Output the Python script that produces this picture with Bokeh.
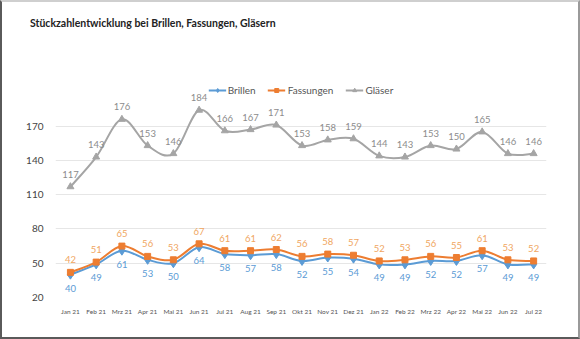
from bokeh.plotting import figure
from bokeh.models import ColumnDataSource, FixedTicker, Legend, LegendItem, Div
from bokeh.layouts import column
from bokeh.core.properties import value
from bokeh.embed import file_html
from bokeh.resources import INLINE

months = ["Jan 21", "Feb 21", "Mrz 21", "Apr 21", "Mai 21", "Jun 21", "Jul 21", "Aug 21", "Sep 21",
          "Okt 21", "Nov 21", "Dez 21", "Jan 22", "Feb 22", "Mrz 22", "Apr 22", "Mai 22", "Jun 22", "Jul 22"]
brillen = [40, 49, 61, 53, 50, 64, 58, 57, 58, 52, 55, 54, 49, 49, 52, 52, 57, 49, 49]
fassungen = [42, 51, 65, 56, 53, 67, 61, 61, 62, 56, 58, 57, 52, 53, 56, 55, 61, 53, 52]
glaeser = [117, 143, 176, 153, 146, 184, 166, 167, 171, 153, 158, 159, 144, 143, 153, 150, 165, 146, 146]
y_ticks = [20, 50, 80, 110, 140, 170]
title_text = "Stückzahlentwicklung bei Brillen, Fassungen, Gläsern"

C_BR = "#5B9BD5"
C_FA = "#ED7D31"
C_GL = "#A5A5A5"

xs = list(range(len(months)))

title_div = Div(
    text=('<div style="margin:15px 0 0 28px;font-family:Lato;font-weight:bold;font-size:10.5px;'
          'line-height:13px;color:#222222;white-space:nowrap">' + title_text + '</div>'),
    width=576, height=40, margin=0)

p = figure(width=576, height=295, output_backend="svg", toolbar_location=None,
           x_range=(-0.58, 18.5), y_range=(20, 210),
           min_border_left=53, min_border_right=32, min_border_top=38, min_border_bottom=40)
p.outline_line_color = None
p.background_fill_color = "white"
p.border_fill_color = "white"

p.xgrid.grid_line_color = None
p.ygrid.grid_line_color = "#e6e6e6"
p.ygrid.grid_line_width = 1
p.yaxis.ticker = FixedTicker(ticks=y_ticks)
p.xaxis.ticker = FixedTicker(ticks=xs)
p.xaxis.major_label_overrides = {i: m for i, m in enumerate(months)}
for ax in (p.xaxis, p.yaxis):
    ax.axis_line_color = None
    ax.major_tick_line_color = None
    ax.minor_tick_line_color = None
p.xaxis.major_label_text_font = "Lato"
p.xaxis.major_label_text_font_size = "6.5px"
p.xaxis.major_label_text_color = "#555555"
p.xaxis.major_label_standoff = 4
p.yaxis.major_label_text_font = "Lato"
p.yaxis.major_label_text_font_size = "10px"
p.yaxis.major_label_text_color = "#444444"
p.yaxis.major_label_standoff = 6


def smooth(src_y, color):
    n = len(src_y)
    x0, y0, x1, y1, cx0, cy0, cx1, cy1 = [], [], [], [], [], [], [], []
    for i in range(n - 1):
        xm = xs[i - 1] if i > 0 else xs[i]
        ym = src_y[i - 1] if i > 0 else src_y[i]
        xp = xs[i + 2] if i + 2 < n else xs[i + 1]
        yp = src_y[i + 2] if i + 2 < n else src_y[i + 1]
        x0.append(xs[i]); y0.append(src_y[i])
        x1.append(xs[i + 1]); y1.append(src_y[i + 1])
        cx0.append(xs[i] + (xs[i + 1] - xm) / 6.0)
        cy0.append(src_y[i] + (src_y[i + 1] - ym) / 6.0)
        cx1.append(xs[i + 1] - (xp - xs[i]) / 6.0)
        cy1.append(src_y[i + 1] - (yp - src_y[i]) / 6.0)
    src = ColumnDataSource(dict(x0=x0, y0=y0, x1=x1, y1=y1, cx0=cx0, cy0=cy0, cx1=cx1, cy1=cy1))
    return p.bezier(x0="x0", y0="y0", x1="x1", y1="y1", cx0="cx0", cy0="cy0", cx1="cx1", cy1="cy1",
                    source=src, line_color=color, line_width=2)


items = []
series = [
    ("Brillen", brillen, C_BR, "diamond", 9, "#5B9BD5", "top", 10),
    ("Fassungen", fassungen, C_FA, "square", 6, "#F0A661", "bottom", -9),
    ("Gläser", glaeser, C_GL, "triangle", 7, "#8C8C8C", "bottom", -9),
]
for name, vals, color, marker, size, lcolor, baseline, yoff in series:
    smooth(vals, color)
    src = ColumnDataSource(dict(x=xs, y=vals, t=[str(v) for v in vals]))
    leg_line = p.line(x=[xs[0]], y=[vals[0]], line_color=color, line_width=2)
    sc = p.scatter("x", "y", source=src, marker=marker, size=size, fill_color=color, line_color=color)
    p.text("x", "y", text="t", source=src, text_align="center", text_baseline=baseline,
           y_offset=yoff, text_font=value("Lato"), text_font_size="9.5px", text_color=lcolor)
    items.append(LegendItem(label=name, renderers=[leg_line, sc]))

legend = Legend(items=items, orientation="horizontal", location="top_center",
                border_line_color=None, background_fill_alpha=0,
                label_text_font="Lato", label_text_font_size="10px", label_text_color="#555555",
                glyph_width=18, glyph_height=10, spacing=12, padding=2, margin=4,
                label_standoff=2)
p.add_layout(legend)

layout = column(title_div, p, spacing=0)
layout.styles = {"border-left": "2px solid #5a5a5a", "border-bottom": "2px solid #5a5a5a",
                 "border-top": "2px solid #cfcfcf", "border-right": "2px solid #9a9a9a",
                 "background-color": "white"}

open("out.html", "w").write(file_html(layout, INLINE))
